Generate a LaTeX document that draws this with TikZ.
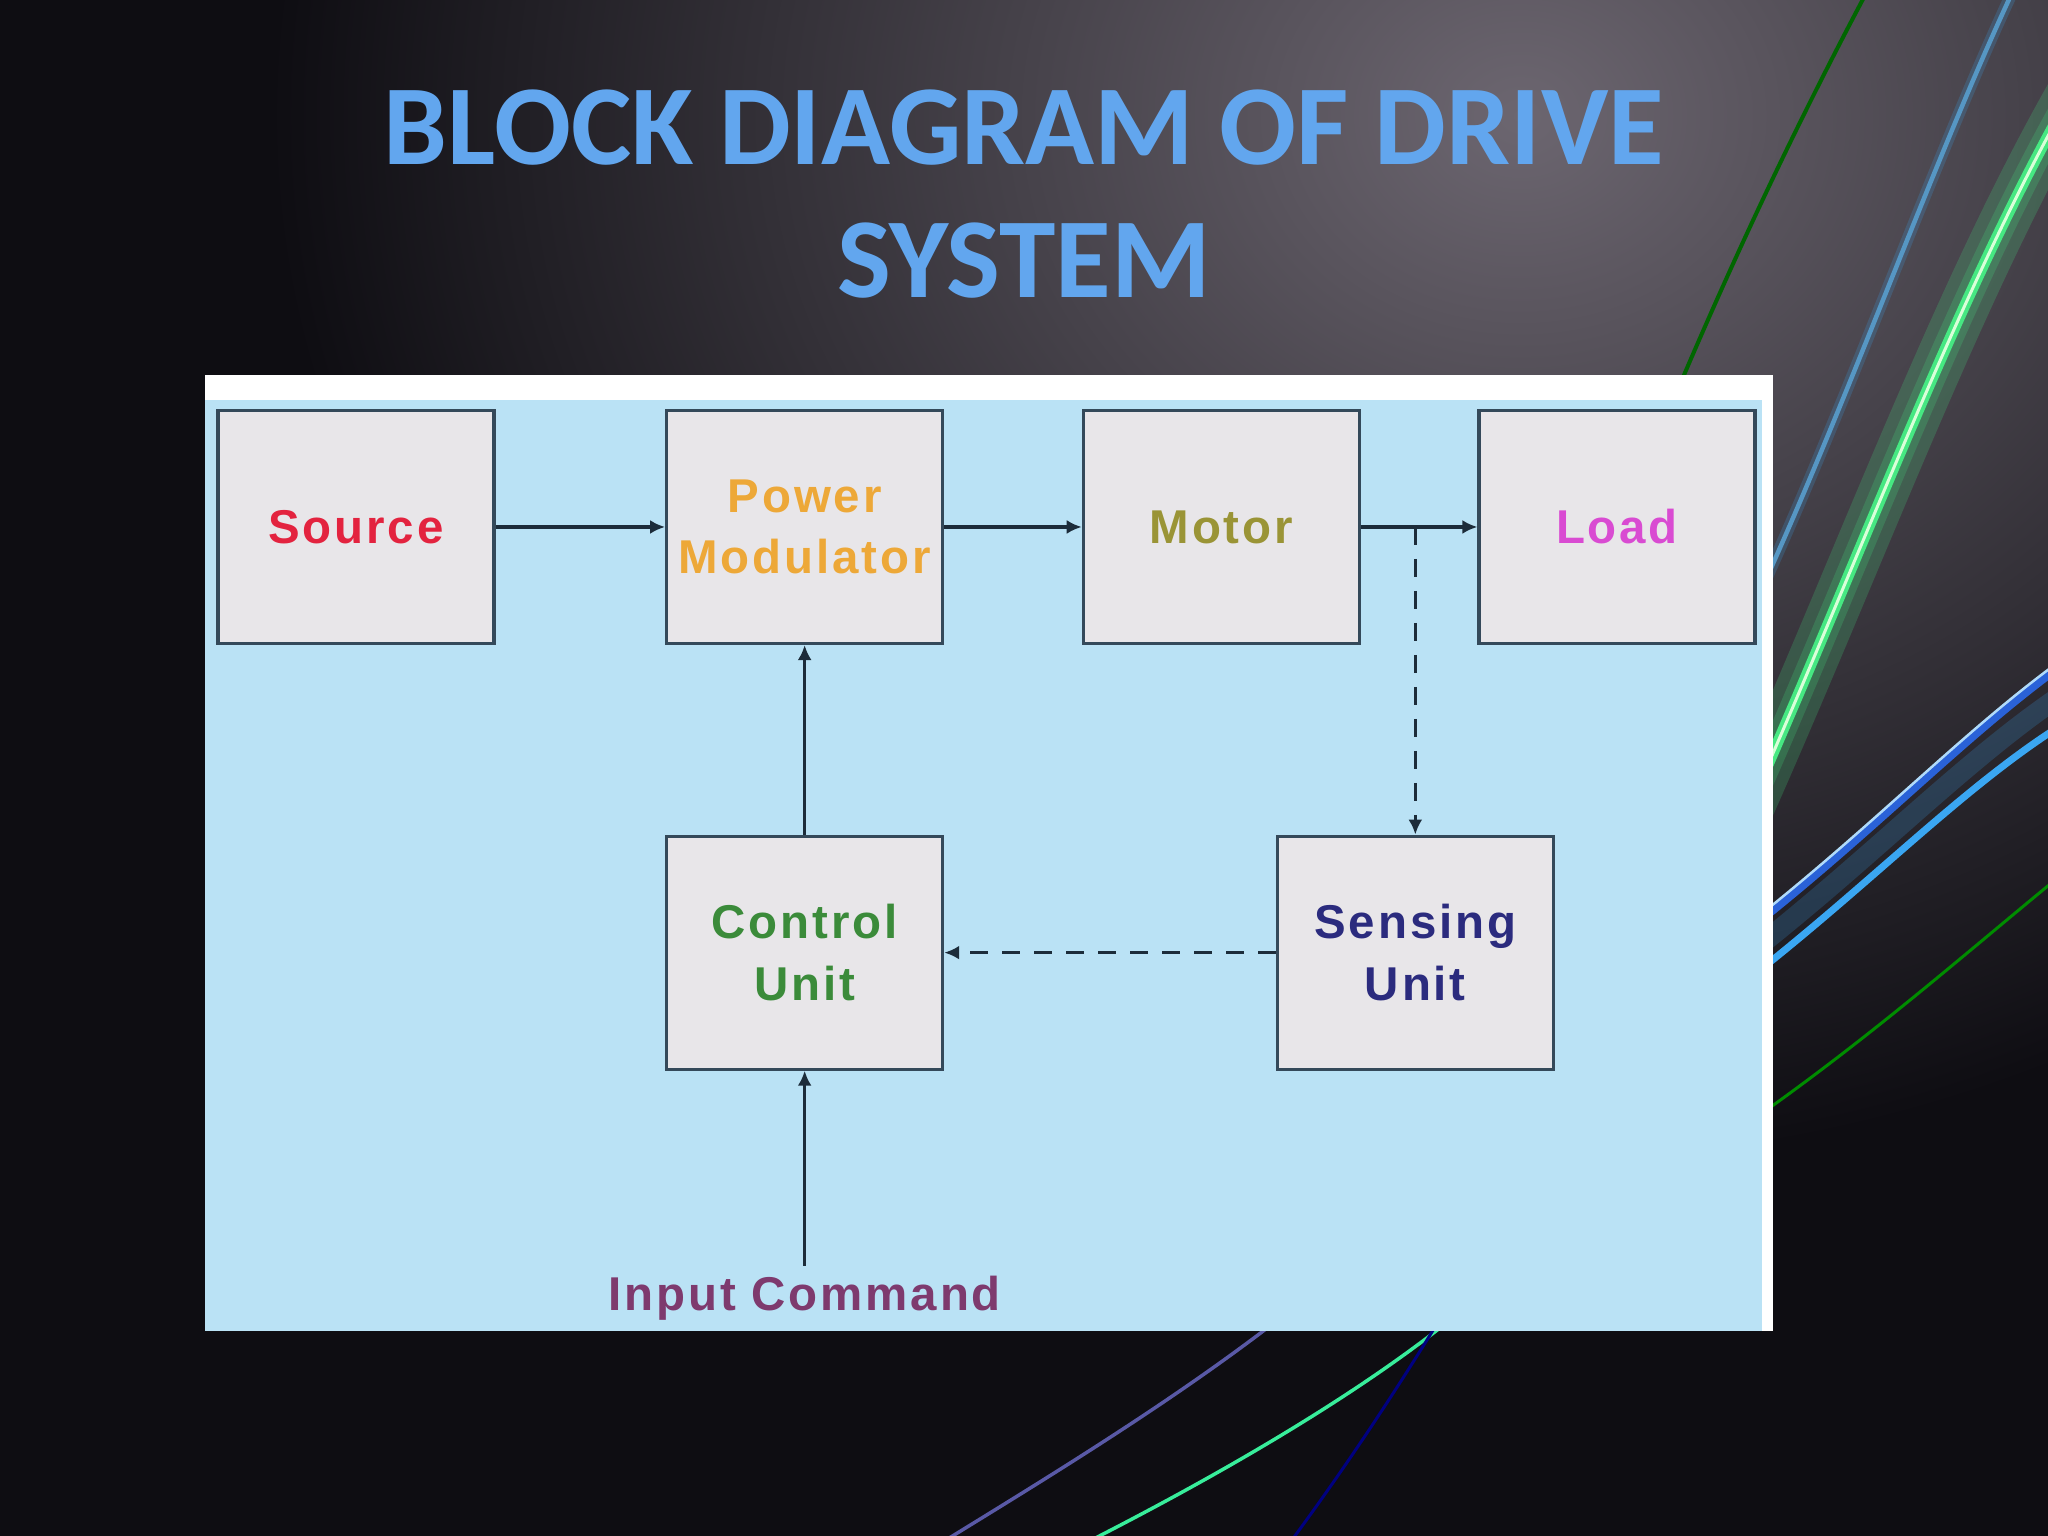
\documentclass[tikz,border=0pt]{standalone}
\usepackage{fontspec}
\setmainfont{Liberation Sans}
\newfontfamily\titlefont{Carlito}
\newfontfamily\boxfont{Liberation Sans}[LetterSpace=6]
\usetikzlibrary{arrows.meta,positioning}
\definecolor{bgDark}{HTML}{0E0D12}
\definecolor{bgGrey}{HTML}{6C6670}
\definecolor{panelBlue}{HTML}{BAE2F5}
\definecolor{boxFill}{HTML}{E8E6E9}
\definecolor{boxDraw}{HTML}{34495A}
\definecolor{lineDark}{HTML}{1C2C3A}
\definecolor{titleBlue}{HTML}{62A6EE}
\definecolor{srcText}{HTML}{E3233F}
\definecolor{pmText}{HTML}{EDA838}
\definecolor{motText}{HTML}{9A9436}
\definecolor{loadText}{HTML}{D94BD2}
\definecolor{cuText}{HTML}{3B8B3A}
\definecolor{suText}{HTML}{2B2B7E}
\definecolor{inText}{HTML}{7E3A6E}
\definecolor{swGreen}{HTML}{46E882}
\definecolor{swBlue}{HTML}{3AA6F2}
\definecolor{swDeep}{HTML}{2A62D8}
\tikzset{
  blk/.style  ={draw=boxDraw, fill=boxFill, line width=0.9pt, minimum width=27.6mm, minimum height=23.3mm,
                align=center, inner sep=1mm, font=\boxfont\bfseries\fontsize{13.5}{17.5}\selectfont},
  lbl/.style  ={align=center, inner sep=1mm, font=\boxfont\bfseries\fontsize{13.5}{17.5}\selectfont},
  arr/.style  ={-{Latex[length=1.5mm,width=1.4mm]}, line width=0.9pt, draw=lineDark},
  darr/.style ={arr, dash pattern=on 1.8mm off 1.4mm},
  ttl/.style  ={align=center, text=titleBlue, font=\titlefont\bfseries\fontsize{32.4}{38}\selectfont},
  glow/.style ={line cap=round, opacity=0.2},
}

\begin{document}
\begin{tikzpicture}
  \useasboundingbox (0,0) rectangle (204.8mm,153.6mm);
  % backdrop
  \fill[bgDark] (0,0) rectangle (204.8mm,153.6mm);
  \shade[inner color=bgGrey, outer color=bgDark] (152mm,142mm) ellipse (125mm and 105mm);
  \draw[glow, swGreen, line width=5mm] (170mm,62mm) .. controls (184mm,92mm) and (194mm,121mm) .. (207mm,144mm);
  \draw[glow, swGreen, line width=2.6mm] (170mm,62mm) .. controls (184mm,92mm) and (194mm,121mm) .. (207mm,144mm);
  \draw[swGreen, line width=1.1mm, line cap=round] (170mm,62mm) .. controls (184mm,92mm) and (194mm,121mm) .. (207mm,144mm);
  \draw[green!15, line width=0.3mm] (170mm,62mm) .. controls (184mm,92mm) and (194mm,121mm) .. (207mm,144mm);
  \draw[glow, swBlue, line width=1.2mm] (170mm,82mm) .. controls (182mm,105mm) and (192mm,135mm) .. (202mm,156mm);
  \draw[swBlue!60!gray, line width=0.45mm] (170mm,82mm) .. controls (182mm,105mm) and (192mm,135mm) .. (202mm,156mm);
  \draw[green!40!black, line width=0.4mm] (165mm,108mm) .. controls (172mm,125mm) and (179mm,140mm) .. (187mm,155mm);
  \draw[glow, swBlue, line width=2mm] (170mm,54.5mm) .. controls (185mm,65.5mm) and (195mm,76.5mm) .. (206mm,84mm);
  \draw[swDeep, line width=0.9mm] (170mm,57mm) .. controls (185mm,68mm) and (195mm,79mm) .. (206mm,87mm);
  \draw[swBlue, line width=0.7mm] (170mm,52mm) .. controls (185mm,63mm) and (195mm,74mm) .. (206mm,81mm);
  \draw[white!60!swBlue, line width=0.25mm] (170mm,57.5mm) .. controls (185mm,68.5mm) and (195mm,79.5mm) .. (206mm,87.5mm);
  \draw[green!55!black, line width=0.3mm] (170mm,38mm) .. controls (185mm,48mm) and (195mm,57mm) .. (206mm,66mm);
  \draw[blue!30!gray, line width=0.35mm] (132mm,25mm) .. controls (120mm,15mm) and (105mm,6mm) .. (92mm,-2mm);
  \draw[swGreen!80!cyan, line width=0.35mm] (149mm,25mm) .. controls (138mm,15mm) and (120mm,5mm) .. (106mm,-2mm);
  \draw[blue!50!black, line width=0.3mm] (146mm,25mm) .. controls (140mm,15mm) and (134mm,6mm) .. (128mm,-2mm);
  % panel
  \fill[white] (20.5mm,20.5mm) rectangle (177.3mm,116.1mm);
  \fill[panelBlue] (20.5mm,20.5mm) rectangle (176.2mm,113.6mm);

  \node[ttl] (title) at (102.4mm,134.2mm) {BLOCK DIAGRAM OF DRIVE\\SYSTEM};

  \node[blk, text=srcText]                         (src)  at (35.6mm,100.9mm) {Source};
  \node[blk, text=pmText,   right=16.95mm of src]  (pm)   {Power\\Modulator};
  \node[blk, text=motText,  right=13.75mm of pm]   (mot)  {Motor};
  \node[blk, text=loadText, right=11.65mm of mot]  (load) {Load};
  \node[blk, text=cuText,   below=18.95mm of pm]   (cu)   {Control\\Unit};
  \node[blk, text=suText,   right=33.15mm of cu]   (su)   {Sensing\\Unit};
  \node[lbl, text=inText,   below=19.5mm of cu]    (cmd)  {Input Command};
  \coordinate (tap) at (su.north |- mot.east);

  \draw[arr] (src)--(pm); \draw[arr] (pm)--(mot); \draw[arr] (mot)--(load);
  \draw[darr] (tap)--(su); \draw[darr] (su)--(cu);
  \draw[arr] (cu)--(pm); \draw[arr] (cmd)--(cu);
\end{tikzpicture}
\end{document}
